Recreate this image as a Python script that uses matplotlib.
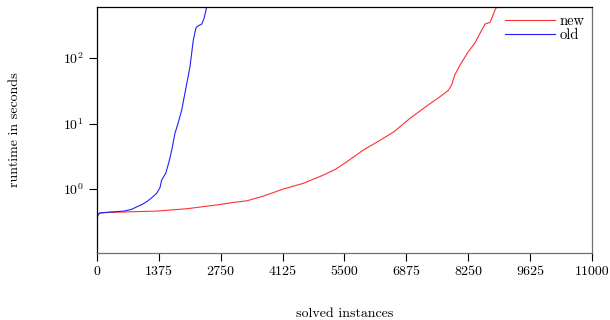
import matplotlib
matplotlib.use("Agg")
import matplotlib.pyplot as plt

plt.rcParams['font.family'] = 'serif'
plt.rcParams['font.serif'] = ['cmr10', 'DejaVu Serif']
plt.rcParams['mathtext.fontset'] = 'cm'
plt.rcParams['axes.formatter.use_mathtext'] = True

x_old = [0, 20, 60, 200, 400, 600, 771, 900, 1000, 1104, 1200, 1327, 1400, 1437, 1527,
         1600, 1660, 1733, 1800, 1882, 1950, 2067, 2140, 2200, 2251, 2327, 2378, 2438]
y_old = [0.35, 0.40, 0.43, 0.44, 0.45, 0.46, 0.49, 0.54, 0.58, 0.64, 0.72, 0.86, 1.05, 1.37, 1.74,
         2.6, 3.9, 7.1, 10, 16, 28, 74, 187, 290, 310, 330, 400, 600]

x_new = [0, 20, 60, 300, 800, 1327, 2000, 2733, 3000, 3327, 3700, 4140, 4584, 5029, 5300, 5549,
         5920, 6300, 6600, 6956, 7327, 7600, 7808, 7882, 7950, 8067, 8252, 8400, 8511, 8622,
         8733, 8800, 8844, 8882]
y_new = [0.35, 0.40, 0.43, 0.44, 0.45, 0.46, 0.50, 0.58, 0.62, 0.66, 0.78, 1.0, 1.22, 1.63, 2.0, 2.6,
         3.94, 5.6, 7.5, 12, 18.5, 25, 32, 39, 55, 78, 125, 170, 238, 330,
         350, 450, 540, 600]

x_ticks = [0, 1375, 2750, 4125, 5500, 6875, 8250, 9625, 11000]
y_ticks = [1, 10, 100]

fig = plt.figure(figsize=(6.1, 3.2), dpi=100)
ax = fig.add_axes([0.159, 0.209, 0.8115, 0.769])

ax.plot(x_new, y_new, color='#ff3030', lw=0.8, label='new')
ax.plot(x_old, y_old, color='#2020ff', lw=0.8, label='old')

ax.set_yscale('log')
ax.set_xlim(0, 11000)
ax.set_ylim(0.105, 600)
ax.set_xticks(x_ticks)
ax.set_xticklabels([str(t) for t in x_ticks])
ax.set_yticks(y_ticks)
ax.yaxis.set_minor_locator(matplotlib.ticker.NullLocator())
ax.tick_params(axis='both', direction='out', length=6, width=0.8, labelsize=10)
ax.tick_params(axis='x', pad=3)

for s in ['bottom', 'right']:
    ax.spines[s].set_color('#707070')
for s in ax.spines.values():
    s.set_linewidth(0.9)

ax.set_xlabel('solved instances', fontsize=10, labelpad=22)
ax.set_ylabel('runtime in seconds', fontsize=10, labelpad=30)

ax.legend(loc='upper right', frameon=False, fontsize=10.5, handlelength=3.4,
          labelspacing=0.0, borderaxespad=0.1, handletextpad=0.35)

fig.savefig('out.png', dpi=100)
